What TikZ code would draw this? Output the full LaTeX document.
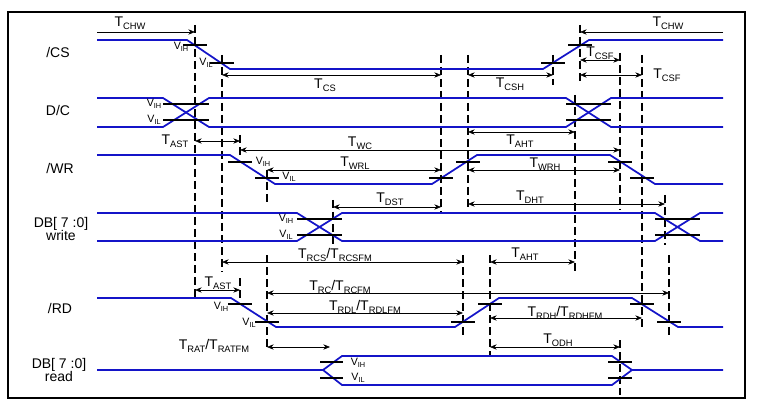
\documentclass[tikz,border=0pt]{standalone}
\usepackage{fontspec}
\setmainfont{Liberation Sans}
\usetikzlibrary{arrows.meta}
\newcommand{\Tsub}[1]{T\raisebox{-0.35ex}{\fontsize{7}{8}\selectfont #1}}
\newcommand{\Vsub}[1]{V\raisebox{-0.3ex}{\fontsize{5.5}{6}\selectfont #1}}
\begin{document}
\begin{tikzpicture}[x=0.75pt,y=-0.75pt,
  sig/.style={draw={rgb,255:red,20;green,20;blue,200},line width=1.3pt,line join=round},
  dsh/.style={draw=black,line width=1pt,dash pattern=on 6pt off 3pt},
  tk/.style={draw=black,line width=1pt},
  dim/.style={draw=black,line width=0.5pt,{Stealth[length=5pt,width=4pt]}-{Stealth[length=5pt,width=4pt]}},
  dimr/.style={draw=black,line width=0.5pt,-{Stealth[length=5pt,width=4pt]}},
  lab/.style={font=\fontsize{10.5}{12}\selectfont,align=center,inner sep=0pt},
  tl/.style={font=\fontsize{10.5}{12}\selectfont,inner sep=0pt},
  vl/.style={font=\fontsize{8}{9}\selectfont,inner sep=0pt}]
\useasboundingbox (0,0) rectangle (764,406);
\draw[line width=1pt] (8,12) rectangle (745,398);
% signal labels
\node[lab] (lcs) at (58,52) {/CS};
\node[lab] (ldc) at (58,110) {D/C};
\node[lab] (lwr) at (60,168) {/WR};
\node[lab] (ldbw) at (61,229) {DB[ 7 :0]\\[-2pt]write};
\node[lab] (lrd) at (60,308) {/RD};
\node[lab] (ldbr) at (59,370) {DB[ 7 :0]\\[-2pt]read};
% dashed verticals
\foreach \x/\a/\b in {195/25/297,222/55/272,240/135/158,240/278/300,267/170/205,267/255/350,333/200/245,441/55/212,468/55/210,463/255/335,490/255/355,553/55/85,575/95/272,580/25/82,620/53/210,620/340/395,642/55/330,665/195/245,669/255/335}
  \draw[dsh] (\x,\a) -- (\x,\b);
% signals
\draw[sig] (97,40)--(187,40)--(230,69)--(543,69)--(589,40)--(723,40);
\draw[sig] (97,98)--(163,98)--(209,127)--(566,127)--(611,98)--(723,98);
\draw[sig] (97,127)--(163,127)--(209,98)--(566,98)--(611,127)--(723,127);
\draw[sig] (97,155)--(230,155)--(275,184)--(432,184)--(477,155)--(610,155)--(655,184)--(723,184);
\draw[sig] (97,213)--(297,213)--(342,241)--(655,241)--(700,213)--(723,213);
\draw[sig] (97,241)--(297,241)--(342,213)--(655,213)--(700,241)--(723,241);
\draw[sig] (97,298)--(231,298)--(276,327)--(455,327)--(499,298)--(632,298)--(678,327)--(723,327);
\draw[sig] (97,370)--(323,370)--(342,356)--(612,356)--(632,370)--(723,370);
\draw[sig] (323,370)--(342,385)--(612,385)--(632,370);
% ticks
\foreach \x/\y in {195/45,222/63,553/63,580/45,240/162,267/178,441/178,468/162,620/162,642/178,240/304,267/322,463/322,490/304,642/304,669/322}
  \draw[tk] (\x-12,\y) -- (\x+12,\y);
\foreach \y in {104,120} {\draw[tk] (163,\y)--(209,\y); \draw[tk] (566,\y)--(611,\y);}
\foreach \y in {219,235} {\draw[tk] (297,\y)--(342,\y); \draw[tk] (655,\y)--(700,\y);}
\foreach \y in {362,378} {\draw[tk] (320,\y)--(343,\y); \draw[tk] (608,\y)--(632,\y);}
% V labels
\node[vl] (v1) at (181,47) {\Vsub{IH}};
\node[vl] (v2) at (206,63) {\Vsub{IL}};
\node[vl] (v3) at (154,104) {\Vsub{IH}};
\node[vl] (v4) at (154,120) {\Vsub{IL}};
\node[vl] (v5) at (263,162) {\Vsub{IH}};
\node[vl] (v6) at (289,177) {\Vsub{IL}};
\node[vl] (v7) at (286,219) {\Vsub{IH}};
\node[vl] (v8) at (286,235) {\Vsub{IL}};
\node[vl] (v9) at (221,307) {\Vsub{IH}};
\node[vl] (v10) at (249,323) {\Vsub{IL}};
\node[vl] (v11) at (358,363) {\Vsub{IH}};
\node[vl] (v12) at (358,378) {\Vsub{IL}};
% dimensions
\draw[dimr] (97,32)--(195,32); \node[tl] (t1) at (130,23) {\Tsub{CHW}};
\draw[dimr] (723,32)--(580,32); \node[tl] (t2) at (668,23) {\Tsub{CHW}};
\draw[dim] (222,75)--(441,75); \node[tl] (t3) at (325,85) {\Tsub{CS}};
\draw[dim] (468,75)--(553,75); \node[tl] (t4) at (510,84) {\Tsub{CSH}};
\draw[dim] (580,60)--(620,60); \node[tl] (t5) at (600,53) {\Tsub{CSF}};
\draw[dim] (580,75)--(642,75); \node[tl] (t6) at (667,75) {\Tsub{CSF}};
\draw[dim] (195,141)--(240,141); \node[tl] (t7) at (175,141) {\Tsub{AST}};
\draw[dim] (240,150)--(620,150); \node[tl] (t8) at (360,143) {\Tsub{WC}};
\draw[dim] (267,170)--(441,170); \node[tl] (t9) at (355,163) {\Tsub{WRL}};
\draw[dim] (468,132)--(575,132); \node[tl] (t10) at (520,141) {\Tsub{AHT}};
\draw[dim] (468,170)--(620,170); \node[tl] (t11) at (545,164) {\Tsub{WRH}};
\draw[dim] (333,207)--(441,207); \node[tl] (t12) at (390,199) {\Tsub{DST}};
\draw[dim] (468,204)--(665,204); \node[tl] (t13) at (530,197) {\Tsub{DHT}};
\draw[dim] (222,262)--(463,262); \node[tl] (t14) at (335,255) {\Tsub{RCS}/\Tsub{RCSFM}};
\draw[dim] (490,262)--(575,262); \node[tl] (t15) at (525,254) {\Tsub{AHT}};
\draw[dim] (195,290)--(240,290); \node[tl] (t16) at (218,283) {\Tsub{AST}};
\draw[dim] (267,293)--(669,293); \node[tl] (t17) at (340,287) {\Tsub{RC}/\Tsub{RCFM}};
\draw[dim] (267,313)--(463,313); \node[tl] (t18) at (365,307) {\Tsub{RDL}/\Tsub{RDLFM}};
\draw[dim] (490,318)--(642,318); \node[tl] (t19) at (565,313) {\Tsub{RDH}/\Tsub{RDHFM}};
\draw[dim] (267,347)--(330,347); \node[tl] (t20) at (214,346) {\Tsub{RAT}/\Tsub{RATFM}};
\draw[dim] (490,347)--(620,347); \node[tl] (t21) at (558,340) {\Tsub{ODH}};
\end{tikzpicture}
\end{document}
